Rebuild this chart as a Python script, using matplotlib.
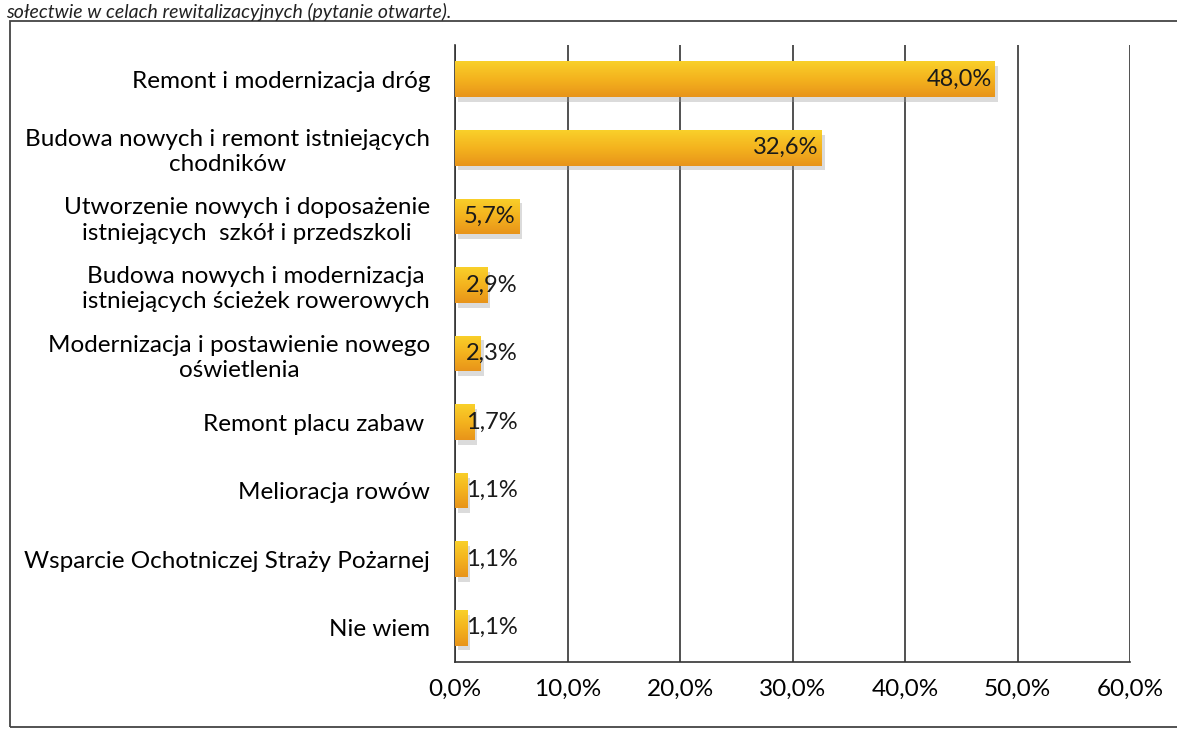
import matplotlib
matplotlib.use("Agg")
import matplotlib.pyplot as plt
import numpy as np
from matplotlib.patches import Rectangle
from matplotlib.colors import LinearSegmentedColormap

categories = [
    "Remont i modernizacja dróg",
    "Budowa nowych i remont istniejących\nchodników",
    "Utworzenie nowych i doposażenie\nistniejących  szkół i przedszkoli",
    "Budowa nowych i modernizacja\nistniejących ścieżek rowerowych",
    "Modernizacja i postawienie nowego\noświetlenia",
    "Remont placu zabaw ",
    "Melioracja rowów",
    "Wsparcie Ochotniczej Straży Pożarnej",
    "Nie wiem",
]
values = [48.0, 32.6, 5.7, 2.9, 2.3, 1.7, 1.1, 1.1, 1.1]
value_labels = ["48,0%", "32,6%", "5,7%", "2,9%", "2,3%", "1,7%", "1,1%", "1,1%", "1,1%"]
xticks = [0, 10, 20, 30, 40, 50, 60]
xtick_labels = ["0,0%", "10,0%", "20,0%", "30,0%", "40,0%", "50,0%", "60,0%"]
title_text = "sołectwie w celach rewitalizacyjnych (pytanie otwarte)."

plt.rcParams['font.family'] = ['Lato', 'DejaVu Sans']

fig = plt.figure(figsize=(11.77, 7.31), dpi=100)
fig.patch.set_facecolor("white")

# outer border
fig.patches.append(Rectangle((10/1177, 4/731), 1.2, 1 - 4/731 - 21/731,
                             transform=fig.transFigure, fill=False,
                             edgecolor="#444444", linewidth=1.3))
fig.text(6/1177, 1 - 21/731, title_text, fontsize=14, style='italic',
         ha='left', va='bottom', color="#222222")

ax = fig.add_axes([455/1177, 1 - 662/731, (1130 - 455)/1177, (662 - 45)/731])
n = len(categories)
ypos = np.arange(n)
bar_h = 0.52

ax.set_xlim(0, 60)
ax.set_ylim(n - 0.5, -0.5)

grad = np.linspace(0, 1, 64).reshape(-1, 1)
cmap = LinearSegmentedColormap.from_list("bar", ["#F9D02A", "#F4B31E", "#E8941A"])
for y, v in zip(ypos, values):
    ax.add_patch(Rectangle((0.25, y - bar_h/2 + 0.07), v, bar_h,
                           facecolor="#9a9a9a", alpha=0.35, edgecolor="none", zorder=2))
    bar = ax.barh(y, v, height=bar_h, color="#F4B31E", edgecolor="none", zorder=3)[0]
    im = ax.imshow(grad, aspect='auto', cmap=cmap,
                   extent=[0, v, y + bar_h/2, y - bar_h/2], zorder=4)
    im.set_clip_path(bar)

for y, v, lab in zip(ypos, values, value_labels):
    if v > 5:
        ax.text(v - 0.3, y, lab, ha='right', va='center', fontsize=17, color="#1a1a1a", zorder=5)
    else:
        ax.text(1.0, y, lab, ha='left', va='center', fontsize=17, color="#1a1a1a", zorder=5)

ax.set_xticks(xticks)
ax.set_xticklabels(xtick_labels, fontsize=17.5)
ax.set_yticks(ypos)
ax.set_yticklabels(categories, fontsize=17.5, linespacing=1.25)
ax.tick_params(axis='both', length=0)
ax.tick_params(axis='x', pad=12)
ax.tick_params(axis='y', pad=18)
for lab in ax.get_yticklabels():
    lab.set_horizontalalignment('right')
    lab.set_multialignment('center')

ax.grid(axis='x', color="#333333", linewidth=1.2, zorder=1)
ax.set_axisbelow(True)
for s in ['top', 'right']:
    ax.spines[s].set_visible(False)
for s in ['left', 'bottom']:
    ax.spines[s].set_color("#333333")
    ax.spines[s].set_linewidth(1.2)

fig.savefig("out.png", dpi=100)
